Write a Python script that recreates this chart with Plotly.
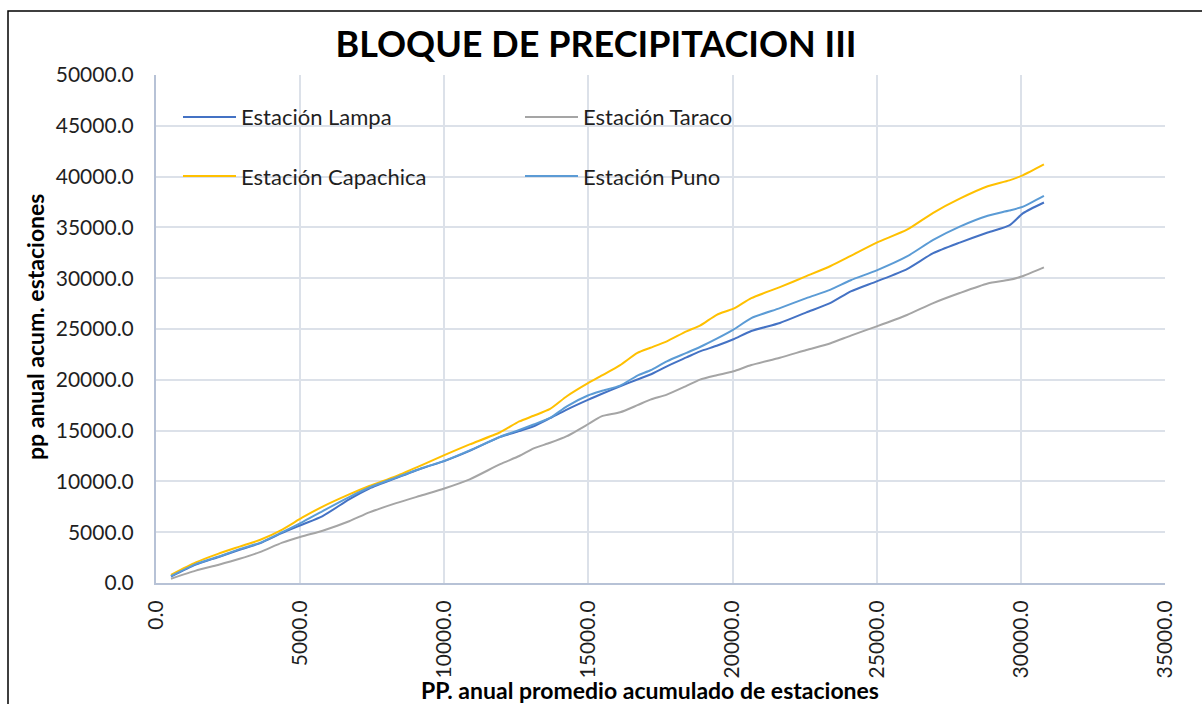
import plotly.graph_objects as go

# Accumulated mean annual precipitation of the block stations (x) and
# accumulated annual precipitation of each station (y), in mm
pp_promedio_acum = [520, 1380, 2150, 2900, 3600, 4380, 5080, 5780, 6700, 7400,
                    8330, 9260, 10000, 10880, 11940, 12600, 13100, 13670, 14250, 15000,
                    15450, 16100, 16700, 17150, 17720, 18400, 18870, 19450, 20030, 20650,
                    21640, 22560, 23400, 24100, 25000, 26050, 26960, 27880, 28850, 29600,
                    30080, 30800]

lampa = [640, 1810, 2540, 3270, 3900, 4930, 5760, 6590, 8230, 9300,
         10330, 11320, 12000, 13000, 14380, 14950, 15430, 16230, 17070, 18050,
         18600, 19360, 20030, 20520, 21330, 22200, 22800, 23350, 23990, 24800,
         25590, 26630, 27570, 28700, 29690, 30900, 32460, 33500, 34500, 35200,
         36400, 37450]

taraco = [420, 1220, 1780, 2380, 3040, 3970, 4600, 5150, 6080, 6950,
          7860, 8660, 9300, 10200, 11700, 12500, 13250, 13800, 14450, 15650,
          16400, 16800, 17500, 18050, 18540, 19400, 20020, 20450, 20840, 21450,
          22170, 22930, 23600, 24350, 25260, 26380, 27550, 28540, 29480, 29840,
          30220, 31060]

capachica = [810, 2030, 2870, 3580, 4230, 5260, 6450, 7520, 8720, 9550,
             10520, 11650, 12590, 13640, 14840, 15900, 16460, 17130, 18380, 19690,
             20400, 21450, 22650, 23150, 23790, 24770, 25330, 26400, 27000, 28040,
             29120, 30200, 31200, 32200, 33500, 34770, 36440, 37830, 39050, 39630,
             40150, 41200]

puno = [680, 1860, 2580, 3330, 3950, 5000, 5990, 7080, 8460, 9400,
        10380, 11340, 12020, 13050, 14400, 15070, 15600, 16250, 17390, 18480,
        18900, 19430, 20420, 20940, 21820, 22650, 23230, 24050, 24940, 26070,
        27060, 28040, 28870, 29800, 30770, 32140, 33770, 35080, 36150, 36660,
        37050, 38100]

series = [
    ("Estación Lampa", lampa, "#4472C4"),
    ("Estación Taraco", taraco, "#A5A5A5"),
    ("Estación Capachica", capachica, "#FFC000"),
    ("Estación Puno", puno, "#5B9BD5"),
]

x_ticks = [0, 5000, 10000, 15000, 20000, 25000, 30000, 35000]
y_ticks = [0, 5000, 10000, 15000, 20000, 25000, 30000, 35000, 40000, 45000, 50000]

W, H = 1202, 704
ML, MR, MT, MB = 156, 37, 75, 121
FONT = "Lato"
TEXT = "#1f1f1f"
GRID = "#DCE1E9"
AXIS = "#B7C2D6"

pw = W - ML - MR
ph = H - MT - MB


def px(xp):
    return (xp - ML) / pw


def py(yp):
    return (H - MB - yp) / ph


fig = go.Figure()
for name, values, color in series:
    fig.add_trace(go.Scatter(
        x=pp_promedio_acum, y=values, name=name, mode="lines",
        line=dict(color=color, width=2, shape="spline", smoothing=0.6),
        showlegend=False,
    ))

# Two-column legend drawn inside the plot area
legend_rows = [(117, series[0], series[1]), (176, series[2], series[3])]
shapes = []
annotations = []
for row_y, left, right in legend_rows:
    for (name, _, color), x0 in ((left, 183), (right, 525)):
        shapes.append(dict(type="line", xref="paper", yref="paper",
                           x0=px(x0), x1=px(x0 + 53), y0=py(row_y), y1=py(row_y),
                           line=dict(color=color, width=2)))
        annotations.append(dict(xref="paper", yref="paper", x=px(x0 + 56), y=py(row_y),
                                text=name, showarrow=False, xanchor="left", yanchor="middle",
                                font=dict(family=FONT, size=22, color=TEXT)))

# Chart frame
shapes.append(dict(type="rect", xref="paper", yref="paper",
                   x0=px(8), y0=py(H + 50), x1=px(W + 50), y1=py(11),
                   line=dict(color="#000000", width=1.5), layer="below"))

annotations.append(dict(xref="paper", yref="paper", x=px(650), y=py(690),
                        text="<b>PP. anual promedio acumulado de estaciones</b>",
                        showarrow=False, xanchor="center", yanchor="middle",
                        font=dict(family=FONT, size=23, color="#000000")))
annotations.append(dict(xref="paper", yref="paper", x=px(35), y=py(327),
                        text="<b>pp anual acum. estaciones</b>", textangle=-90,
                        showarrow=False, xanchor="center", yanchor="middle",
                        font=dict(family=FONT, size=23, color="#000000")))

fig.update_layout(
    width=W, height=H,
    margin=dict(l=ML, r=MR, t=MT, b=MB),
    paper_bgcolor="white", plot_bgcolor="white",
    title=dict(text="<b>BLOQUE DE PRECIPITACION III</b>", x=596 / W, xanchor="center",
               yref="container", y=1 - 44 / H, yanchor="middle",
               font=dict(family=FONT, size=36, color="#000000")),
    shapes=shapes,
    annotations=annotations,
    xaxis=dict(range=[0, 35000], tickvals=x_ticks, tickformat=".1f", tickangle=-90,
               showgrid=True, gridcolor=GRID, gridwidth=1.5,
               showline=True, linecolor=AXIS, linewidth=2, zeroline=False,
               ticks="", ticklabelstandoff=7,
               tickfont=dict(family=FONT, size=21, color=TEXT)),
    yaxis=dict(range=[0, 50000], tickvals=y_ticks, tickformat=".1f",
               showgrid=True, gridcolor=GRID, gridwidth=1.5,
               showline=True, linecolor=AXIS, linewidth=2, zeroline=False,
               ticks="", ticklabelstandoff=16,
               tickfont=dict(family=FONT, size=21, color=TEXT)),
)

fig.write_html("out.html")
